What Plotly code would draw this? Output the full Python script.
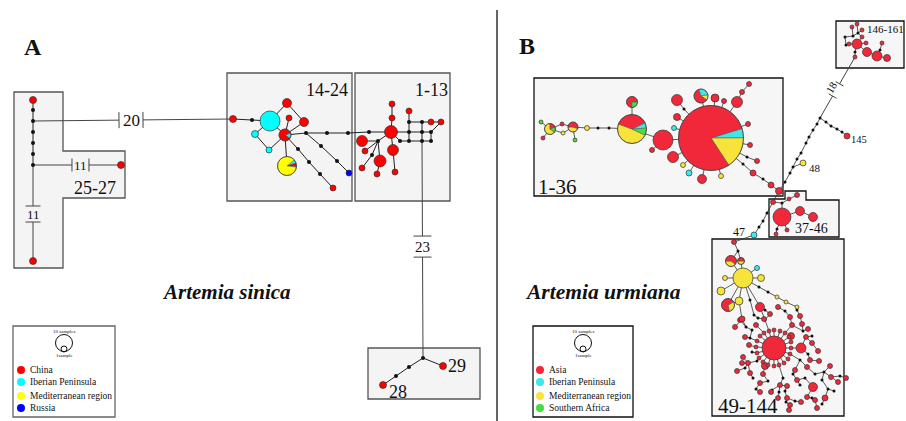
import math
import plotly.graph_objects as go

W, H = 906, 421
FONT = "Liberation Serif, Times New Roman, serif"

# ---------------- Panel A : Artemia sinica ----------------
A_names = ['L1', 'L2', 'L3', 'L4', 'L5', 'L6', 'L7', 'L8', 'L9',
           'M1', 'M2', 'M3', 'M4', 'M5', 'M6', 'M7', 'M8', 'M12', 'M13', 'M14', 'M15', 'M16', 'M17', 'M18', 'M19', 'M20', 'M21', 'M22',
           'R1', 'R2', 'R3', 'R4', 'R5', 'R6', 'R7', 'R8', 'R9', 'R10', 'R11', 'R12', 'R13', 'R14',
           'G1', 'G2', 'G3', 'G4', 'G5', 'G6', 'G7', 'G8', 'R15', 'R16',
           'J', 'B1', 'B2', 'B3', 'B4']
A_x = [33, 33, 33, 33, 33, 33, 33, 121, 33,
       233, 252, 270, 255, 269, 287, 289, 304, 306, 327, 348, 369, 298, 309, 320, 333, 321, 337, 349,
       391, 362, 380, 393, 392, 392, 409, 365, 362, 377, 395, 378, 372, 400,
       409, 409, 409, 422, 422, 422, 431, 431, 431, 441,
       423, 409, 396, 383, 443]
A_y = [100, 110, 121, 132, 143, 154, 165, 165, 261,
       119, 120, 121, 134, 150, 103, 118, 122, 133, 133, 133, 132, 149, 162, 174, 188, 146, 161, 173,
       132, 141, 161, 150, 104, 118, 111, 151, 168, 174, 172, 141, 155, 141,
       122, 132, 141, 122, 132, 141, 132, 141, 122, 122,
       358, 367, 376, 385, 366]
A_size = [7, 4, 4, 4, 4, 4, 4, 7, 7,
          7, 4, 20, 7, 6, 9, 6, 9, 4, 4, 4, 4, 4, 4, 4, 6, 4, 4, 6,
          13, 11, 12, 11, 6, 6, 6, 6, 6, 6, 6, 4, 4, 4,
          4, 4, 4, 4, 4, 4, 4, 4, 6, 6,
          4, 4, 4, 7, 7]
A_kind = ['R', 'K', 'K', 'K', 'K', 'K', 'K', 'R', 'R',
          'R', 'K', 'C', 'C', 'C', 'R', 'R', 'R', 'K', 'K', 'K', 'K', 'K', 'K', 'K', 'R', 'K', 'K', 'B',
          'R', 'R', 'R', 'R', 'R', 'R', 'R', 'R', 'R', 'R', 'R', 'K', 'K', 'K',
          'K', 'K', 'K', 'K', 'K', 'K', 'K', 'K', 'R', 'R',
          'K', 'K', 'K', 'R', 'R']

A_pie_names = ['M9', 'M11']
A_pie_x = [285, 287]
A_pie_y = [135, 166]
A_pie_size = [12, 19]
A_pie_start = [-20, -40]
A_pie_parts = [[('C', 0.15), ('R', 0.85)],
               [('C', 0.06), ('R', 0.07), ('Y', 0.87)]]

A_edges = ['L1-L2', 'L2-L3', 'L3-L4', 'L4-L5', 'L5-L6', 'L6-L7',
           'M1-M2', 'M2-M3', 'M3-M6', 'M6-M8', 'M8-M9', 'M3-M9', 'M3-M4', 'M4-M5', 'M5-M9', 'M7-M9', 'M9-M11',
           'M9-M12', 'M12-M13', 'M13-M14', 'M14-M15', 'M15-R1', 'M9-M16', 'M16-M17', 'M17-M18', 'M18-M19',
           'M12-M20', 'M20-M21', 'M21-M22',
           'R1-R6', 'R6-R5', 'R1-R12', 'R12-R2', 'R12-R8', 'R12-R13', 'R13-R9', 'R12-R3', 'R3-R10', 'R1-R4', 'R4-R11',
           'R1-G2', 'R1-R14', 'R14-G3', 'G1-G2', 'G2-G3', 'G1-R7', 'G1-G4', 'G4-G5', 'G5-G6', 'G2-G5', 'G3-G6',
           'G4-R15', 'R15-R16', 'G5-G7', 'G6-G8', 'G7-G8', 'G7-R16',
           'J-B1', 'B1-B2', 'B2-B3', 'J-B4']

# mutation-count links (from, to, label)
A_mut_from = ['L3', 'L7', 'L7', 'G6']
A_mut_to = ['M1', 'L8', 'L9', 'J']
A_mut_label = ['20', '11', '11', '23']

# ---------------- Panel B : Artemia urmiana ----------------
U_names = ['U1', 'U2', 'U3', 'U4', 'U5', 'U6', 'U7', 'U8', 'U9', 'U10', 'U11', 'U12', 'U13', 'U14', 'U15', 'U16', 'U17',
           'U18', 'U19', 'U20', 'U21', 'U22', 'U23', 'U24', 'U25', 'U26', 'U27', 'U28', 'U29', 'U30', 'U31', 'U32', 'U33']
U_x = [663, 673, 677, 715, 737, 724, 742, 749, 677, 674, 652, 683, 689, 702, 721, 748, 750,
       747, 757, 743, 753, 763, 771, 779, 684, 541, 562, 563, 543, 575, 587, 598, 609]
U_y = [140, 157, 100, 98, 102, 101, 92, 84, 117, 128, 150, 165, 173, 179, 176, 124, 145,
       157, 161, 164, 173, 179, 185, 191, 109, 122, 124, 133, 138, 140, 128, 128, 128]
U_size = [20, 11, 11, 8, 11, 5, 5, 5, 7, 5, 5, 5, 6, 9, 5, 5, 5,
          3, 5, 3, 6, 3, 6, 7, 3, 4, 4, 4, 4, 4, 5, 3, 3]
U_kind = ['R', 'R', 'R', 'R', 'R', 'R', 'R', 'R', 'R', 'C', 'R', 'Y', 'C', 'R', 'Y', 'R', 'R',
          'K', 'R', 'K', 'R', 'K', 'R', 'R', 'K', 'G', 'R', 'Y', 'R', 'G', 'Y', 'K', 'K']

V_names = ['V1', 'V2', 'V3', 'V4', 'V5', 'V6', 'V7', 'V8', 'V9', 'V10', 'W1', 'W2', 'W3', 'C47', 'X1']
V_x = [773, 782, 789, 797, 782, 800, 813, 777, 776, 787, 767, 763, 759, 754, 734]
V_y = [202, 203, 199, 195, 217, 211, 217, 229, 234, 230, 213, 221, 227, 235, 242]
V_size = [5, 3, 4, 5, 18, 9, 9, 3, 4, 4, 3, 3, 3, 6, 5]
V_kind = ['R', 'K', 'R', 'R', 'R', 'R', 'R', 'K', 'R', 'R', 'K', 'K', 'K', 'C', 'R']

T_names = ['T1', 'T2', 'T3', 'T4', 'T5', 'T6', 'T7', 'T8', 'T9', 'T10', 'Y48', 'T11', 'T12', 'T13', 'T14', 'R145']
T_x = [785, 790, 793, 797, 801, 806, 809, 813, 817, 820, 803, 826, 831, 837, 842, 847]
T_y = [182, 173, 167, 159, 153, 143, 137, 130, 124, 118, 163, 122, 126, 129, 132, 136]
T_size = [3, 3, 3, 3, 3, 3, 3, 3, 3, 3, 6, 3, 3, 3, 3, 6]
T_kind = ['K', 'K', 'K', 'K', 'K', 'K', 'K', 'K', 'K', 'K', 'Y', 'K', 'K', 'K', 'K', 'R']

N_names = ['N1', 'N2', 'N3', 'N4', 'N5', 'N6', 'N7', 'N8', 'N9', 'N10', 'N11', 'N12',
           'NK1', 'NK2', 'NK3', 'NK4', 'NK5', 'NK6']
N_x = [857, 867, 877, 887, 882, 852, 857, 862, 849, 862, 866, 855, 845, 846, 853, 858, 855, 880]
N_y = [44, 52, 56, 58, 43, 27, 24, 30, 44, 37, 43, 57, 37, 45, 36, 33, 52, 50]
N_size = [10, 9, 10, 7, 4, 4, 4, 4, 4, 4, 4, 4, 3, 3, 3, 3, 3, 3]
N_kind = ['R'] * 12 + ['K'] * 6

Q_names = ['QK1', 'Yb', 'C2', 'Y1', 'Y2', 'Y3', 'Y4', 'Ra', 'QK2', 'QK3', 'Y5', 'Y6', 'Y7', 'QK4', 'QK5', 'QK6', 'Sc']
Q_x = [738, 743, 757, 725, 761, 721, 739, 760, 759, 768, 777, 786, 797, 750, 754, 765, 774]
Q_y = [251, 278, 268, 278, 278, 291, 301, 307, 287, 292, 297, 302, 307, 300, 315, 320, 348]
Q_size = [3, 20, 5, 5, 7, 8, 8, 9, 3, 3, 4, 4, 4, 3, 3, 3, 24]
Q_kind = ['K', 'Y', 'C', 'Y', 'Y', 'Y', 'Y', 'R', 'K', 'K', 'Y', 'Y', 'Y', 'K', 'K', 'K', 'R']

B_pie_names = ['Ugiant', 'Umid', 'Utop', 'Utr', 'Ul1', 'Ul2', 'Q1', 'Q2', 'Q3']
B_pie_x = [711, 632, 632, 701, 550, 573, 731, 741, 728]
B_pie_y = [138, 129, 102, 96, 129, 127, 261, 261, 305]
B_pie_size = [65, 29, 11, 14, 11, 10, 11, 7, 13]
B_pie_start = [-17, 200, 0, 250, 270, 180, 180, 180, -30]
B_pie_parts = [[('C', 0.047), ('Y', 0.158), ('R', 0.795)],
               [('R', 0.375), ('C', 0.06), ('G', 0.08), ('Y', 0.485)],
               [('G', 0.26), ('R', 0.74)],
               [('C', 0.28), ('Y', 0.12), ('R', 0.60)],
               [('R', 0.20), ('G', 0.15), ('Y', 0.65)],
               [('R', 0.55), ('Y', 0.45)],
               [('R', 0.60), ('Y', 0.40)],
               [('R', 0.50), ('Y', 0.50)],
               [('Y', 0.30), ('R', 0.70)]]

B_edges = ['U3-U25', 'U25-Ugiant', 'Ugiant-U9', 'Ugiant-U10', 'Ugiant-U1', 'Ugiant-U2', 'Ugiant-U12', 'Ugiant-U13',
           'Ugiant-U14', 'Ugiant-U15', 'Ugiant-Utr', 'Ugiant-U4', 'Ugiant-U6', 'Ugiant-U5', 'U5-U7', 'U7-U8',
           'Ugiant-U16', 'Ugiant-U17', 'Ugiant-U18', 'U18-U19', 'Ugiant-U20', 'U20-U21', 'U21-U22', 'U22-U23', 'U23-U24',
           'U1-Umid', 'U11-U1', 'Utop-Umid', 'U33-Umid', 'U32-U33', 'U31-U32', 'Ul2-U31', 'Ul2-U30', 'U27-Ul2', 'U28-Ul2',
           'Ul1-U27', 'Ul1-U28', 'Ul1-U26', 'Ul1-U29',
           'U24-V1', 'V1-V2', 'V2-V3', 'V3-V4', 'V2-V5', 'V5-V6', 'V6-V7', 'V5-V8', 'V8-V9', 'V5-V10',
           'V1-W1', 'W1-W2', 'W2-W3', 'W3-C47', 'C47-X1',
           'U24-T1', 'T1-T2', 'T2-T3', 'T3-T4', 'T4-T5', 'T5-T6', 'T6-T7', 'T7-T8', 'T8-T9', 'T9-T10', 'T3-Y48',
           'T10-T11', 'T11-T12', 'T12-T13', 'T13-T14', 'T14-R145',
           'N12-NK5', 'NK5-N1', 'N1-N2', 'N2-N3', 'N3-N4', 'N3-NK6', 'NK6-N5', 'N1-N9', 'N9-NK2', 'NK2-NK1',
           'NK1-NK3', 'NK3-N6', 'NK3-NK4', 'NK4-N7', 'NK4-N8', 'NK4-N10', 'N10-N1', 'N1-N11',
           'X1-QK1', 'QK1-Q1', 'QK1-Q2', 'Q1-Yb', 'Q2-Yb', 'Yb-C2', 'Yb-Y1', 'Yb-Y2', 'Yb-Y3', 'Yb-Y4', 'Yb-QK2',
           'QK2-QK3', 'QK3-Y5', 'Y5-Y6', 'Y6-Y7', 'Yb-Ra', 'Yb-Q3', 'Yb-QK4', 'QK4-QK5', 'Ra-QK6']
B_mut_from = ['T10']
B_mut_to = ['N12']
B_mut_label = ['18']

# star-like cluster of haplotypes 49-144 around the central haplotype 'Sc'
star_ring_x = [791, 790, 788, 784, 779, 774, 768, 763, 759, 757, 756, 757, 760, 764, 769, 774, 780, 785, 789, 791]
star_ring_y = [348, 354, 359, 363, 365, 366, 365, 362, 358, 353, 347, 341, 336, 333, 331, 330, 331, 333, 337, 342]
star_out_x = [778, 740, 743, 748, 750, 763, 760, 780, 787, 797, 795, 807, 810, 812, 818, 819, 806, 808, 802, 800,
              790, 792, 770, 764, 756, 745, 749, 742, 737, 830, 831, 838, 825, 813, 807, 801, 817, 787, 790, 778,
              771, 801, 791, 765, 742, 735, 846, 815, 760, 789,
              752, 750, 752, 757, 745, 753, 756, 768, 772, 783, 785, 793, 800, 805, 815, 822, 828, 834, 800, 808,
              812, 803, 797, 785, 765, 758, 746, 779, 786, 795, 812, 822, 840, 824]
star_out_y = [307, 320, 357, 363, 373, 374, 383, 385, 386, 380, 370, 367, 360, 343, 351, 361, 337, 329, 324, 316,
              317, 325, 314, 319, 325, 337, 345, 363, 371, 366, 377, 382, 398, 387, 397, 402, 408, 398, 405, 398,
              392, 348, 336, 366, 319, 327, 378, 400, 392, 410,
              330, 338, 352, 361, 368, 378, 389, 381, 390, 378, 391, 374, 385, 378, 374, 380, 389, 391, 360, 354,
              336, 331, 310, 311, 310, 318, 327, 392, 402, 401, 398, 404, 376, 372]
star_out_size = [5] * 32 + [6, 9] + [5] * 7 + [10, 7, 7, 6, 5, 5, 5, 5, 5] + [3] * 34
star_out_kind = ['R'] * 50 + ['K'] * 34
star_attach = ['QK5', 'QK6', 'Q3', 'Y4']

# ---------------- Legends ----------------
legA_labels = ['China', 'Iberian Peninsula', 'Mediterranean region', 'Russia']
legA_kinds = ['R', 'C', 'Y', 'B']
legB_labels = ['Asia', 'Iberian Peninsula', 'Mediterranean region', 'Southern Africa']
legB_kinds = ['R', 'C', 'Y', 'G']

# ---------------- styles ----------------
PAL_A = {'R': '#ff0000', 'C': '#00ffff', 'Y': '#ffff00', 'B': '#0000ff', 'G': '#33dd33', 'K': '#111111'}
PAL_B = {'R': '#f0283a', 'C': '#3fe6ea', 'Y': '#f6e43a', 'G': '#44dd44', 'K': '#111111', 'B': '#0000ff'}

for arrs in [(A_names, A_x, A_y, A_size, A_kind), (U_names, U_x, U_y, U_size, U_kind),
             (V_names, V_x, V_y, V_size, V_kind), (T_names, T_x, T_y, T_size, T_kind),
             (N_names, N_x, N_y, N_size, N_kind), (Q_names, Q_x, Q_y, Q_size, Q_kind),
             (star_out_x, star_out_y, star_out_size, star_out_kind), (star_ring_x, star_ring_y)]:
    assert len(set(len(a) for a in arrs)) == 1, [len(a) for a in arrs]

posA = {n: (x, y) for n, x, y in zip(A_names, A_x, A_y)}
posA.update({n: (x, y) for n, x, y in zip(A_pie_names, A_pie_x, A_pie_y)})
posB = {}
for names, xs, ys in [(U_names, U_x, U_y), (V_names, V_x, V_y), (T_names, T_x, T_y), (N_names, N_x, N_y),
                      (Q_names, Q_x, Q_y), (B_pie_names, B_pie_x, B_pie_y)]:
    posB.update({n: (x, y) for n, x, y in zip(names, xs, ys)})

fig = go.Figure()
shapes = []
annots = []


def add_text(x, y, text, size, xanchor='center', yanchor='middle', angle=0, bold=False, italic=False):
    t = text
    if bold:
        t = '<b>' + t + '</b>'
    if italic:
        t = '<i>' + t + '</i>'
    annots.append(dict(x=x, y=y, xref='x', yref='y', text=t, showarrow=False, textangle=angle,
                       xanchor=xanchor, yanchor=yanchor, font=dict(family=FONT, size=size, color='#111')))


def box(path, fill, line):
    shapes.append(dict(type='path', path=path, xref='x', yref='y', fillcolor=fill,
                       line=dict(color=line, width=1.3), layer='below'))


def rect_path(x0, y0, x1, y1):
    return f'M{x0},{y0} L{x1},{y0} L{x1},{y1} L{x0},{y1} Z'


def line_trace(segs, color, width):
    xs, ys = [], []
    for (x0, y0), (x1, y1) in segs:
        xs += [x0, x1, None]
        ys += [y0, y1, None]
    fig.add_trace(go.Scatter(x=xs, y=ys, mode='lines', line=dict(color=color, width=width),
                             hoverinfo='skip', showlegend=False))


def node_traces(xs, ys, sizes, kinds, pal):
    for k in ['K', 'R', 'C', 'Y', 'G', 'B']:
        idx = [i for i, kk in enumerate(kinds) if kk == k]
        if not idx:
            continue
        fig.add_trace(go.Scatter(
            x=[xs[i] for i in idx], y=[ys[i] for i in idx], mode='markers',
            marker=dict(size=[sizes[i] for i in idx], color=pal[k], opacity=1,
                        line=dict(color='#333', width=0 if k == 'K' else 0.7)),
            hoverinfo='skip', showlegend=False))


def pie_traces(xs, ys, sizes, starts, parts, pal):
    polys = {}
    for cx, cy, d, a, pr in zip(xs, ys, sizes, starts, parts):
        r = d / 2.0
        for k, f in pr:
            a1 = a + 360 * f
            n = max(3, int(abs(a1 - a) / 3) + 1)
            px, py = [cx], [cy]
            for i in range(n + 1):
                t = math.radians(a + (a1 - a) * i / n)
                px.append(cx + r * math.cos(t))
                py.append(cy + r * math.sin(t))
            px.append(cx)
            py.append(cy)
            P = polys.setdefault(k, ([], []))
            P[0].extend(px + [None])
            P[1].extend(py + [None])
            a = a1
    for k, (px, py) in polys.items():
        fig.add_trace(go.Scatter(x=px, y=py, mode='lines', fill='toself', fillcolor=pal[k],
                                 line=dict(color='#555', width=0.5), hoverinfo='skip', showlegend=False))
    fig.add_trace(go.Scatter(x=xs, y=ys, mode='markers',
                             marker=dict(size=sizes, color='rgba(0,0,0,0)', opacity=1,
                                         line=dict(color='#333', width=0.7)),
                             hoverinfo='skip', showlegend=False))


def mut_link(p0, p1, label, t0, t1, tick, fsize, color, angle=0, off=0):
    x0, y0 = p0
    x1, y1 = p1
    dx, dy = x1 - x0, y1 - y0
    L = math.hypot(dx, dy)
    nx, ny = -dy / L, dx / L
    a = (x0 + dx * t0, y0 + dy * t0)
    b = (x0 + dx * t1, y0 + dy * t1)
    segs = [((x0, y0), a), (b, (x1, y1))]
    for p in (a, b):
        segs.append(((p[0] - nx * tick / 2, p[1] - ny * tick / 2), (p[0] + nx * tick / 2, p[1] + ny * tick / 2)))
    line_trace(segs, color, 1)
    mx, my = (a[0] + b[0]) / 2 + nx * off, (a[1] + b[1]) / 2 + ny * off
    add_text(mx, my, label, fsize, angle=angle)


# ---------- boxes ----------
BOXA_FILL, BOXA_LINE = '#f4f4f4', '#555555'
box('M14,92 L63,92 L63,151 L125,151 L125,198 L63,198 L63,268 L14,268 Z', BOXA_FILL, BOXA_LINE)
box(rect_path(227, 73, 352, 201), BOXA_FILL, BOXA_LINE)
box(rect_path(355, 73, 450, 201), BOXA_FILL, BOXA_LINE)
box(rect_path(368, 348, 480, 399), BOXA_FILL, BOXA_LINE)
BOXB_FILL, BOXB_LINE = '#f6f6f6', '#111111'
box(rect_path(534, 78, 783, 196), BOXB_FILL, BOXB_LINE)
box('M769,199 L785,199 L785,191 L806,191 L806,200 L839,200 L839,237 L769,237 Z', BOXB_FILL, BOXB_LINE)
box(rect_path(712, 239, 844, 416), BOXB_FILL, BOXB_LINE)
box(rect_path(836, 21, 904, 68), BOXB_FILL, BOXB_LINE)
# legend frames
shapes.append(dict(type='rect', x0=13, y0=326, x1=115, y1=417, xref='x', yref='y',
                   fillcolor='white', line=dict(color='#666', width=1.3), layer='below'))
shapes.append(dict(type='rect', x0=533, y0=326, x1=633, y1=417, xref='x', yref='y',
                   fillcolor='white', line=dict(color='#111', width=1.3), layer='below'))
# panel divider
shapes.append(dict(type='line', x0=497, y0=10, x1=497, y1=421, xref='x', yref='y',
                   line=dict(color='#111', width=1.3)))

# ---------- Panel A drawing ----------
segsA = []
for e in A_edges:
    a, b = e.split('-')
    segsA.append((posA[a], posA[b]))
line_trace(segsA, '#222', 1)
mut_params = [(0.43, 0.55, 16, 17), (0.443, 0.636, 13, 13), (0.427, 0.594, 15, 13), (0.438, 0.535, 18, 15)]
for f, t, lab, (t0, t1, tk, fs) in zip(A_mut_from, A_mut_to, A_mut_label, mut_params):
    mut_link(posA[f], posA[t], lab, t0, t1, tk, fs, '#444')
node_traces(A_x, A_y, A_size, A_kind, PAL_A)
pie_traces(A_pie_x, A_pie_y, A_pie_size, A_pie_start, A_pie_parts, PAL_A)

# ---------- Panel B drawing ----------
segsB = []
for e in B_edges:
    a, b = e.split('-')
    segsB.append((posB[a], posB[b]))
# star cluster links: ring -> centre, others -> nearest closer node
cx, cy = posB['Sc']
placed = [(x, y) for x, y in zip(star_ring_x, star_ring_y)]
for p in placed:
    segsB.append(((cx, cy), p))
others = list(zip(star_out_x, star_out_y)) + [posB[n] for n in star_attach]
others.sort(key=lambda p: math.hypot(p[0] - cx, p[1] - cy))
for p in others:
    dp = math.hypot(p[0] - cx, p[1] - cy)
    cand = [q for q in placed if math.hypot(q[0] - cx, q[1] - cy) < dp - 1]
    q = min(cand, key=lambda q: math.hypot(q[0] - p[0], q[1] - p[1]))
    segsB.append((q, p))
    placed.append(p)
line_trace(segsB, '#333', 0.8)
for f, t, lab in zip(B_mut_from, B_mut_to, B_mut_label):
    mut_link(posB[f], posB[t], lab, 0.36, 0.56, 9, 11, '#444', angle=-60, off=-5)

all_x = U_x + V_x + T_x + N_x + Q_x + star_out_x + star_ring_x
all_y = U_y + V_y + T_y + N_y + Q_y + star_out_y + star_ring_y
all_s = U_size + V_size + T_size + N_size + Q_size + star_out_size + [4] * len(star_ring_x)
all_k = U_kind + V_kind + T_kind + N_kind + Q_kind + star_out_kind + ['R'] * len(star_ring_x)
node_traces(all_x, all_y, all_s, all_k, PAL_B)
pie_traces(B_pie_x, B_pie_y, B_pie_size, B_pie_start, B_pie_parts, PAL_B)

# ---------- legends ----------
for lx, labels, kinds, pal in [(21, legA_labels, legA_kinds, PAL_A), (540, legB_labels, legB_kinds, PAL_B)]:
    cxl = lx + 43
    fig.add_trace(go.Scatter(x=[cxl, cxl], y=[343, 349], mode='markers',
                             marker=dict(size=[17, 6], color='rgba(0,0,0,0)', opacity=1,
                                         line=dict(color='#111', width=1)),
                             hoverinfo='skip', showlegend=False))
    add_text(cxl, 331, '10 samples', 5)
    add_text(cxl, 355, '1sample', 5)
    ly = [370, 382, 396, 408]
    fig.add_trace(go.Scatter(x=[lx] * 4, y=ly, mode='markers',
                             marker=dict(size=8, color=[pal[k] for k in kinds], opacity=1, line=dict(width=0)),
                             hoverinfo='skip', showlegend=False))
    for yy, lab in zip(ly, labels):
        add_text(lx + 7, yy, lab, 9.5, xanchor='left')

# ---------- labels ----------
add_text(33, 47, 'A', 24, bold=True)
add_text(527, 46, 'B', 24, bold=True)
add_text(226, 292, 'Artemia sinica', 21, bold=True, italic=True)
add_text(603, 292, 'Artemia urmiana', 21.5, bold=True, italic=True)
add_text(327, 90, '14-24', 18)
add_text(431, 90, '1-13', 18)
add_text(95, 188, '25-27', 18)
add_text(457, 366, '29', 18)
add_text(398, 392, '28', 18)
add_text(536, 187, '1-36', 21, xanchor='left')
add_text(716, 406, '49-144', 21, xanchor='left')
add_text(811, 228, '37-46', 14)
add_text(885, 29, '146-161', 11)
add_text(849, 139, '145', 10.5, xanchor='left')
add_text(807, 168, '48', 11, xanchor='left')
add_text(739, 232, '47', 12)

fig.update_layout(
    width=W, height=H, margin=dict(l=0, r=0, t=0, b=0), autosize=False,
    paper_bgcolor='white', plot_bgcolor='white', showlegend=False,
    xaxis=dict(range=[0, W], visible=False, fixedrange=True),
    yaxis=dict(range=[H, 0], visible=False, fixedrange=True),
    shapes=shapes, annotations=annots,
)
fig.write_html("out.html", config={'displayModeBar': False},
               post_script="document.body.style.margin='0';document.body.style.overflow='hidden';")
